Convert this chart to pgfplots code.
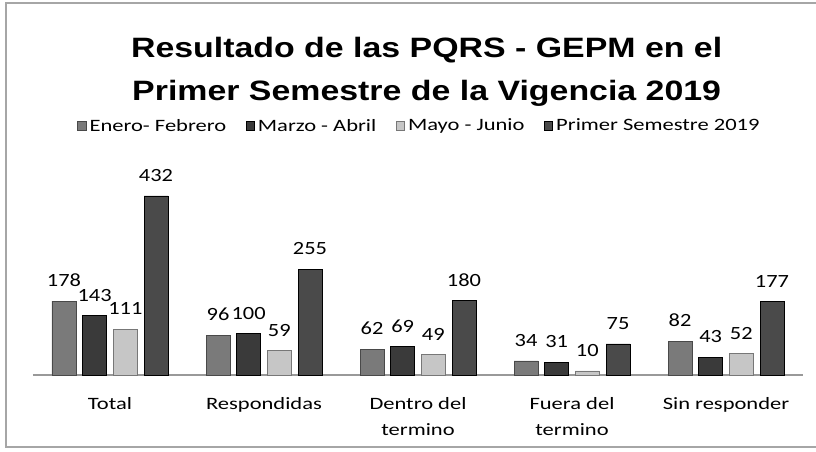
\documentclass[border=0pt]{standalone}
\usepackage{fontspec}
\setmainfont{Carlito}
\newfontfamily\titlefont{Liberation Sans}
\usepackage{graphicx}
\usepackage{pgfplots}
\pgfplotsset{compat=1.18}

% the scan is stretched sideways, so text is widened to match
\newcommand{\hs}[1]{\scalebox{1.3}[1]{#1}}

\definecolor{serA}{HTML}{7A7A7A}
\definecolor{serB}{HTML}{3A3A3A}
\definecolor{serC}{HTML}{C6C6C6}
\definecolor{serD}{HTML}{4A4A4A}

\begin{document}
\begin{tikzpicture}
\useasboundingbox (0pt,0pt) rectangle (612pt,338.25pt);
\draw[gray!70, line width=0.8pt] (612pt,336pt) -- (4.5pt,336pt) -- (4.5pt,3pt) -- (612pt,3pt);

\node[anchor=base, font=\titlefont\bfseries\fontsize{21}{24}\selectfont] at (320pt,295pt)
  {\scalebox{1.21}[1]{Resultado de las PQRS - GEPM en el}};
\node[anchor=base, font=\titlefont\bfseries\fontsize{21}{24}\selectfont] at (320pt,263.25pt)
  {\scalebox{1.21}[1]{Primer Semestre de la Vigencia 2019}};

\begin{axis}[
    at={(24.75pt,57pt)}, anchor=south west,
    scale only axis, width=577.5pt, height=155.4pt,
    ybar=5pt, bar width=18pt,
    xmin=-0.5, xmax=4.5, ymin=0, ymax=500,
    enlarge x limits=false, enlarge y limits=false,
    hide y axis,
    axis x line*=bottom,
    x axis line style={-, draw=gray!80, line width=0.8pt},
    xtick={0,1,2,3,4},
    xticklabels={\hs{Total}, \hs{Respondidas}, {\hs{Dentro del}\\\hs{termino}}, {\hs{Fuera del}\\\hs{termino}}, \hs{Sin responder}},
    major tick length=0pt,
    x tick label style={font=\fontsize{13}{20}\selectfont, align=center, anchor=north, inner sep=0pt, yshift=-16.5pt},
    /pgf/number format/assume math mode=true,
    nodes near coords={\scalebox{1.2}[1]{\pgfmathprintnumber{\pgfplotspointmeta}}},
    nodes near coords style={font=\fontsize{14}{16}\selectfont, anchor=south, inner sep=0pt, yshift=10.5pt, text=black},
    legend columns=4,
    legend style={at={(0.5026,1.2017)}, anchor=center, draw=none, fill=none,
      font=\fontsize{13}{15}\selectfont, nodes={inner xsep=2.5pt},
      /tikz/every even column/.append style={column sep=12pt}},
    legend image code/.code={\draw[#1] (0pt,-3.2pt) rectangle (6.4pt,3.2pt);},
    clip=false,
]
\addplot[fill=serA, draw=serA!60!black] coordinates {(0,178) (1,96) (2,62) (3,34) (4,82)};
\addplot[fill=serB, draw=black] coordinates {(0,143) (1,100) (2,69) (3,31) (4,43)};
\addplot[fill=serC, draw=serC!60!black] coordinates {(0,111) (1,59) (2,49) (3,10) (4,52)};
\addplot[fill=serD, draw=black] coordinates {(0,432) (1,255) (2,180) (3,75) (4,177)};
\addlegendentry{\hs{Enero- Febrero}}
\addlegendentry{\hs{Marzo - Abril}}
\addlegendentry{\hs{Mayo - Junio}}
\addlegendentry{\hs{Primer Semestre 2019}}
\end{axis}
\end{tikzpicture}
\end{document}
